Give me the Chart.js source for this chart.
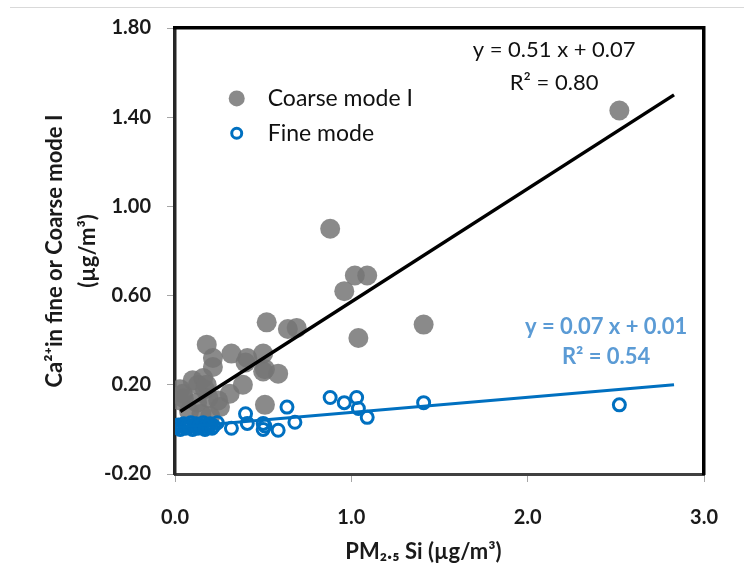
<!DOCTYPE html>
<html>
<head>
<meta charset="utf-8">
<script src="https://cdn.jsdelivr.net/npm/chart.js@4/dist/chart.umd.min.js"></script>
<style>
  html, body { margin: 0; padding: 0; background: #fff; }
  #wrap { position: relative; width: 750px; height: 574px; }
  #topline { position: absolute; left: 10px; right: 6px; top: 7px; border-top: 1px solid #d9d9d9; }
</style>
</head>
<body>
<div id="wrap">
  <div id="topline"></div>
  <canvas id="chart" width="750" height="574"></canvas>
</div>
<script>
// values
var coarseX = [0.03, 0.03, 0.045, 0.05, 0.08, 0.10, 0.125, 0.13, 0.15, 0.16, 0.17, 0.18, 0.18, 0.19, 0.2, 0.215, 0.215, 0.245, 0.255, 0.31, 0.32, 0.385, 0.40, 0.41, 0.50, 0.50, 0.51, 0.51, 0.52, 0.585, 0.64, 0.69, 0.88, 0.96, 1.02, 1.04, 1.09, 1.41, 2.52];
var coarseY = [0.13, 0.18, 0.16, 0.14, 0.08, 0.22, 0.12, 0.20, 0.07, 0.23, 0.18, 0.38, 0.20, 0.14, 0.06, 0.28, 0.32, 0.13, 0.10, 0.16, 0.34, 0.20, 0.30, 0.32, 0.34, 0.26, 0.27, 0.11, 0.48, 0.25, 0.45, 0.455, 0.90, 0.62, 0.69, 0.41, 0.69, 0.47, 1.43];

var fineX = [0.01, 0.02, 0.03, 0.04, 0.05, 0.06, 0.07, 0.08, 0.09, 0.10, 0.11, 0.12, 0.13, 0.14, 0.15, 0.16, 0.17, 0.18, 0.19, 0.20, 0.21, 0.22, 0.24, 0.32, 0.40, 0.41, 0.50, 0.50, 0.51, 0.585, 0.635, 0.68, 0.88, 0.96, 1.03, 1.04, 1.09, 1.41, 2.52];
var fineY = [0.01, 0.02, 0.0, 0.015, 0.025, 0.005, 0.02, 0.01, 0.03, 0.0, 0.015, 0.025, 0.005, 0.02, 0.01, 0.03, 0.0, 0.02, 0.01, 0.025, 0.005, 0.015, 0.03, 0.005, 0.07, 0.027, 0.027, 0.0, 0.015, -0.004, 0.10, 0.032, 0.143, 0.12, 0.143, 0.094, 0.054, 0.12, 0.11];

// trend line end points
var coarseFitX = [0.03, 2.83];
var coarseFitY = [0.08, 1.50];
var fineFitX = [0.02, 2.83];
var fineFitY = [0.01, 0.20];

var seriesNames = ["Coarse mode I", "Fine mode"];
var coarseEq = ["y = 0.51 x + 0.07", "R\u00b2 = 0.80"];
var fineEq = ["y = 0.07 x + 0.01", "R\u00b2 = 0.54"];

function pts(xs, ys) {
    var out = [];
    for (var i = 0; i < xs.length; i++) out.push({ x: xs[i], y: ys[i] });
    return out;
}

var grey = "rgba(118,118,118,0.85)";
var blue = "#0070C0";
var eqBlue = "#5B9BD5";
var fontFam = "Lato, 'Noto Sans', sans-serif";

// legend + equations, placed in data units
var notes = {
    id: "notes",
    afterDraw: function (chart) {
        var ctx = chart.ctx;
        var xs = chart.scales.x, ys = chart.scales.y;
        ctx.save();
        ctx.textBaseline = "middle";

        // legend
        var lx = xs.getPixelForValue(0.35), ly1 = ys.getPixelForValue(1.484), ly2 = ys.getPixelForValue(1.328);
        ctx.beginPath();
        ctx.arc(lx, ly1, 8, 0, Math.PI * 2);
        ctx.fillStyle = grey;
        ctx.fill();
        ctx.beginPath();
        ctx.arc(lx, ly2, 5, 0, Math.PI * 2);
        ctx.lineWidth = 3;
        ctx.strokeStyle = blue;
        ctx.stroke();
        ctx.fillStyle = "#111";
        ctx.font = "23px " + fontFam;
        ctx.textAlign = "left";
        ctx.fillText(seriesNames[0], lx + 31, ly1);
        ctx.fillText(seriesNames[1], lx + 31, ly2);

        // equations
        ctx.textAlign = "center";
        ctx.font = "22px " + fontFam;
        ctx.fillText(coarseEq[0], xs.getPixelForValue(2.15), ys.getPixelForValue(1.70));
        ctx.fillText(coarseEq[1], xs.getPixelForValue(2.15), ys.getPixelForValue(1.555));
        ctx.fillStyle = eqBlue;
        ctx.font = "bold 22px " + fontFam;
        ctx.fillText(fineEq[0], xs.getPixelForValue(2.445), ys.getPixelForValue(0.459));
        ctx.fillText(fineEq[1], xs.getPixelForValue(2.445), ys.getPixelForValue(0.326));
        ctx.restore();
    }
};

var tickFont = { family: fontFam, size: 20, weight: "bold" };

new Chart(document.getElementById("chart"), {
    type: "scatter",
    data: {
        datasets: [
            {
                type: "line",
                label: "fine fit",
                data: pts(fineFitX, fineFitY),
                borderColor: blue,
                borderWidth: 3,
                pointRadius: 0,
                order: 0
            },
            {
                type: "line",
                label: "coarse fit",
                data: pts(coarseFitX, coarseFitY),
                borderColor: "#000",
                borderWidth: 3.5,
                pointRadius: 0,
                order: 1
            },
            {
                label: seriesNames[1],
                data: pts(fineX, fineY),
                pointRadius: 6,
                pointBorderWidth: 3,
                borderColor: blue,
                backgroundColor: "rgba(255,255,255,0)",
                order: 2
            },
            {
                label: seriesNames[0],
                data: pts(coarseX, coarseY),
                pointRadius: 10,
                pointBorderWidth: 0,
                borderColor: "rgba(0,0,0,0)",
                backgroundColor: grey,
                order: 3
            }
        ]
    },
    options: {
        responsive: false,
        animation: false,
        layout: { padding: 0 },
        plugins: {
            legend: { display: false },
            tooltip: { enabled: false }
        },
        scales: {
            x: {
                type: "linear",
                min: 0,
                max: 3,
                afterFit: function (s) { s.height = 100; },
                ticks: {
                    stepSize: 1,
                    color: "#1a1a1a",
                    font: tickFont,
                    padding: 24,
                    callback: function (v) { return v.toFixed(1); }
                },
                grid: { drawOnChartArea: false, tickLength: 8, color: "#a6a6a6" },
                border: { color: "#404040", width: 3 },
                title: {
                    display: true,
                    text: "PM\u2082.\u2085 Si (\u00b5g/m\u00b3)      ",
                    color: "#1a1a1a",
                    font: { family: fontFam, size: 22, weight: "bold" },
                    padding: { top: 0, bottom: 9 }
                }
            },
            y: {
                type: "linear",
                min: -0.2,
                max: 1.8,
                afterFit: function (s) { s.width = 175; },
                ticks: {
                    stepSize: 0.4,
                    color: "#1a1a1a",
                    font: tickFont,
                    padding: 16,
                    callback: function (v) { return v.toFixed(2); }
                },
                grid: { drawOnChartArea: false, tickLength: 8, color: "#a6a6a6" },
                border: { color: "#262626", width: 3.5 },
                title: {
                    display: true,
                    text: ["Ca\u00b2\u207ain fine or Coarse mode I", "(\u00b5g/m\u00b3)"],
                    color: "#1a1a1a",
                    font: { family: fontFam, size: 22, weight: "bold", lineHeight: 1.5 },
                    padding: { top: 38, bottom: 0 }
                }
            },
            xTop: {
                type: "linear",
                position: "top",
                min: 0,
                max: 3,
                afterFit: function (s) { s.height = 25; },
                ticks: { display: false },
                grid: { display: false },
                border: { color: "#000", width: 3.5 }
            },
            yRight: {
                type: "linear",
                position: "right",
                min: -0.2,
                max: 1.8,
                afterFit: function (s) { s.width = 46; },
                ticks: { display: false },
                grid: { display: false },
                border: { color: "#000", width: 3.5 }
            }
        }
    },
    plugins: [notes]
});
</script>
</body>
</html>
